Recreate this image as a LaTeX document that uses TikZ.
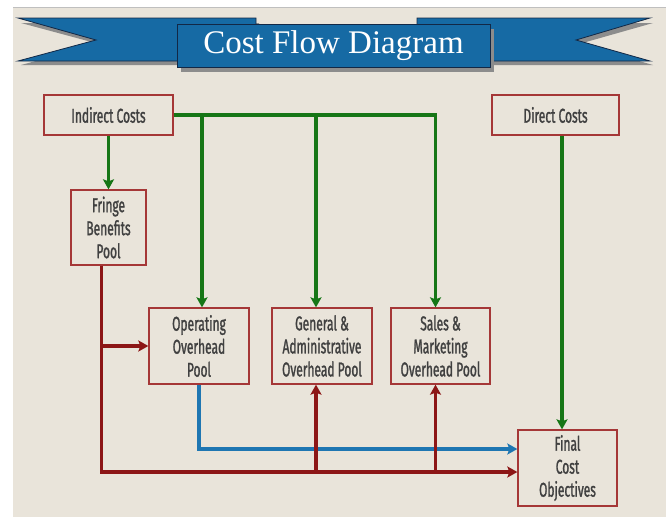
\documentclass[tikz,border=0pt]{standalone}
\usepackage{fontspec}
\setmainfont{Liberation Serif}
\newfontfamily\boxfont[FakeStretch=0.6, FakeBold=1.3]{Fira Sans}
\usetikzlibrary{arrows.meta}
\definecolor{paper}{RGB}{233,228,218}
\definecolor{ribbon}{RGB}{22,106,164}
\definecolor{ribbonedge}{RGB}{18,40,70}
\definecolor{boxred}{RGB}{165,55,55}
\definecolor{costred}{RGB}{140,22,22}
\definecolor{feedgreen}{RGB}{22,118,22}
\definecolor{allocblue}{RGB}{30,118,178}
\definecolor{inkgray}{RGB}{64,64,64}
\tikzset{
  pool/.style={draw=boxred, line width=1.3pt, text=inkgray, align=center, inner sep=0pt,
    font=\boxfont\fontsize{20}{23}\selectfont},
  feed/.style={draw=feedgreen, line width=3.6pt},
  cost/.style={draw=costred, line width=3.6pt},
  alloc/.style={draw=allocblue, line width=3.2pt},
  shade/.style={fill=black!45, draw=none}
}
\begin{document}
\begin{tikzpicture}[>={Stealth[length=10pt,width=11pt,inset=2pt]}, x=1pt, y=-1pt]
  \useasboundingbox (0,0) rectangle (666,517);
  \fill[white] (0,0) rectangle (666,517);
  \fill[paper] (13,7) rectangle (666,517);
  \draw[black!25, line width=0.8pt] (13,7) -- (666,7);
  % banner
  \fill[shade] (21,23) -- (259,23) -- (259,65) -- (21,65) -- (99,44) -- cycle;
  \fill[shade] (420,23) -- (653,23) -- (579,44) -- (653,65) -- (420,65) -- cycle;
  \draw[fill=ribbon, draw=ribbonedge, line width=0.8pt] (18,18) -- (256,18) -- (256,61) -- (18,61) -- (96,40) -- cycle;
  \draw[fill=ribbon, draw=ribbonedge, line width=0.8pt] (417,18) -- (650,18) -- (576,40) -- (650,61) -- (417,61) -- cycle;
  \fill[shade] (181,29) rectangle (494,72);
  \draw[fill=ribbon, draw=ribbonedge, line width=0.8pt] (177,24) rectangle (490,67);
  \node[text=white, font=\fontsize{33}{36}\selectfont] (title) at (333.5,46) {Cost Flow Diagram};
  % boxes
  \node[pool, minimum width=129pt, minimum height=40pt] (ind) at (108.5,115) {Indirect Costs};
  \node[pool, minimum width=75pt, minimum height=75pt] (fringe) at (108.5,227.5) {Fringe\\Benefits\\Pool};
  \node[pool, minimum width=127pt, minimum height=40pt] (dir) at (555.5,115) {Direct Costs};
  \node[pool, minimum width=100pt, minimum height=76pt] (oper) at (199,346) {Operating\\Overhead\\Pool};
  \node[pool, minimum width=100pt, minimum height=76pt] (gen) at (322,346) {General \&\\Administrative\\Overhead Pool};
  \node[pool, minimum width=99pt, minimum height=76pt] (sales) at (440.5,346) {Sales \&\\Marketing\\Overhead Pool};
  \node[pool, minimum width=99pt, minimum height=76pt] (final) at (567.5,468) {Final\\Cost\\Objectives};
  % connector ends
  \coordinate (toO) at ([xshift=3pt]oper.north);
  \coordinate (toG) at ([xshift=-6pt]gen.north);
  \coordinate (toS) at ([xshift=-5pt]sales.north);
  \coordinate (upG) at ([xshift=-6pt]gen.south);
  \coordinate (upS) at ([xshift=-5pt]sales.south);
  \coordinate (fr) at ([xshift=-7pt]fringe.south);
  \coordinate (redin) at ([yshift=-4pt]final.west);
  \coordinate (bluein) at ([yshift=19pt]final.west);
  \coordinate (dx) at ([xshift=6.5pt]dir.south);
  % green
  \draw[feed, ->] (ind.south) -- (fringe.north);
  \draw[feed, ->] (ind.east) -| (toS);
  \draw[feed, ->] (ind.east -| toO) -- (toO);
  \draw[feed, ->] (ind.east -| toG) -- (toG);
  \draw[feed, ->] (dx) -- (dx |- final.north);
  % blue
  \draw[alloc, ->] (oper.south) |- (bluein);
  % red
  \draw[cost, ->] (fr) |- (redin);
  \draw[cost, ->] (fr |- oper.west) -- (oper.west);
  \draw[cost, ->] (upG |- redin) -- (upG);
  \draw[cost, ->] (upS |- redin) -- (upS);
\end{tikzpicture}
\end{document}
